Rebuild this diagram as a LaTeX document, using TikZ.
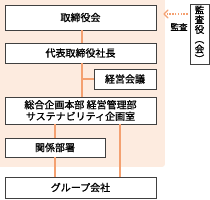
\documentclass[tikz,border=0pt]{standalone}
\usepackage{fontspec}
\setmainfont{Noto Sans CJK JP}[AutoFakeBold=1.2]
\usetikzlibrary{arrows.meta}
\definecolor{peach}{HTML}{FDEBDF}
\definecolor{lineor}{HTML}{F4A070}
\definecolor{boxline}{HTML}{404040}
\tikzset{
  box/.style={draw=boxline, line width=0.8pt, fill=white, inner sep=0pt, align=center, font=\fontsize{10}{12.5}\selectfont\bfseries},
  conn/.style={draw=lineor, line width=1.3pt},
}
\begin{document}
\begin{tikzpicture}[x=1pt,y=-1pt]
\useasboundingbox (0,0) rectangle (210,200);
\fill[peach, rounded corners=3pt] (0,-5) -- (165,-5) -- (165,167) -- (-5,167) -- cycle;
\node[box, minimum width=151pt, minimum height=25pt] (tori) at (80.5,17.5) {取締役会};
\node[box, minimum width=151pt, minimum height=20pt] (daihyo) at (80.5,53) {代表取締役社長};
\node[box, minimum width=62pt, minimum height=20pt] (keiei) at (125,79) {経営会議};
\node[box, minimum width=151pt, minimum height=27pt] (sogo) at (80.5,110.5) {総合企画本部 経営管理部\\[-1pt]サステナビリティ企画室};
\node[box, minimum width=100pt, minimum height=19pt] (kankei) at (55,147.5) {関係部署};
\node[box, minimum width=151pt, minimum height=21pt] (group) at (80.5,187.5) {グループ会社};
\node[box, minimum width=19pt, minimum height=60pt, font=\fontsize{9.5}{9.8}\selectfont\bfseries] (kansa) at (199.5,34) {監\\査\\役\\︵\\会\\︶};
\coordinate (xa) at (82,0);
\coordinate (xb) at (55,0);
\coordinate (xc) at (120,0);
\coordinate (arrtip) at (164,14);
\draw[conn] (tori.south -| xa) -- (daihyo.north -| xa);
\draw[conn] (daihyo.south -| xa) -- (sogo.north -| xa);
\draw[conn] (keiei.west |- 0,79) -- (82,79);
\draw[conn] (sogo.south -| xb) -- (kankei.north -| xb);
\draw[conn] (kankei.south -| xb) -- (group.north -| xb);
\draw[conn] (sogo.south -| xc) -- (group.north -| xc);
\draw[draw=lineor, line width=1.3pt, dash pattern=on 1.3pt off 1.5pt] ([xshift=-2pt]kansa.west |- arrtip) -- ([xshift=3pt]arrtip);
\draw[draw=lineor, line width=1.4pt, line cap=round, line join=round] ([shift={(4,-4)}]arrtip) -- (arrtip) -- ([shift={(4,4)}]arrtip);
\node[font=\fontsize{8.5}{10}\selectfont\bfseries] (kansalabel) at (179,27) {監査};
\end{tikzpicture}
\end{document}
